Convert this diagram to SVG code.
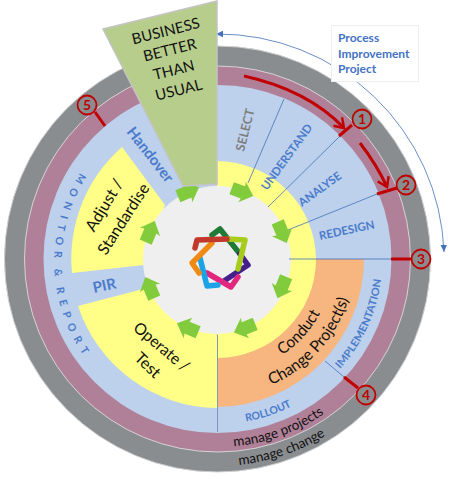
<svg xmlns="http://www.w3.org/2000/svg" width="450" height="479" viewBox="0 0 450 479">
<style>
.lb{font-family:Lato,"Liberation Sans",sans-serif;font-weight:700;fill:#4a7bcb}
.bk{font-family:Lato,"Liberation Sans",sans-serif;fill:#111}
.thin{fill:none;stroke:#4472b8;stroke-width:.8}
.red{fill:none;stroke:#c00000;stroke-width:3}
.num{fill:none;stroke:#c00000;stroke-width:1.8}
.numt{font-family:Lato,"Liberation Sans",sans-serif;font-weight:700;font-size:14px;fill:#c00000;text-anchor:middle}
.st{fill:none;stroke-width:5.500;stroke-linejoin:round;stroke-linecap:round}
</style>
<defs>
<marker id="ah" markerWidth="8" markerHeight="8" refX="7" refY="4" orient="auto-start-reverse" markerUnits="userSpaceOnUse"><path d="M0 .8L7 4L0 7.200z" fill="#4472b8"/></marker>
<marker id="rh" markerWidth="14" markerHeight="14" refX="11" refY="7" orient="auto" markerUnits="userSpaceOnUse"><path d="M2 1L11 7L2 13" fill="none" stroke="#c00000" stroke-width="2.500"/></marker>
<path id="ga" d="M-11 -6.500L1 -6.500L0 -11L12 0L0 11L1 6.500L-11 6.500z" fill="#82cb3c"/>
<path id="pMon" d="M84 167A165 165 0 0 0 84 356"/>
<path id="pProj" d="M233.900 446.300A188 188 0 0 0 350.400 391.900"/>
<path id="pChg" d="M239.100 464.900A207 207 0 0 0 363.900 405.400"/>
<path id="pRoll" d="M246 421.500A165 165 0 0 0 320 388"/>
<path id="pImpl" d="M340 369A165 165 0 0 0 382.500 259"/>
<path id="pChangeP" d="M259.800 389.300A137 137 0 0 0 351.500 287.500"/>
<path id="pConduct" d="M253.300 369.300A116 116 0 0 0 331 283"/>
</defs>
<g id="ring-change"><circle cx="217.500" cy="259" r="213" fill="#8a8d90" stroke="#cfcfcf" stroke-width="1"/></g>
<g id="ring-projects"><circle cx="217.500" cy="259" r="193" fill="#b08098" stroke="#d4d4d4" stroke-width="1"/></g>
<g id="ring-blue"><circle cx="217.500" cy="259" r="174" fill="#bdd0ec"/></g>
<g id="yellow">
<path d="M122 147A148 148 0 0 0 72 273L144 265L165 205z" fill="#ffff88"/>
<path d="M78 306A148 148 0 0 0 217 408L217 335L143 289z" fill="#ffff88"/>
<path d="M217 161A99 99 0 0 1 316 259L217 259z" fill="#ffff88"/>
</g>
<g id="orange"><path d="M217.500 259H364A148 148 0 0 1 217.500 407z" fill="#f7b57f"/><path d="M217.500 259H316A99 99 0 0 1 217.500 358z" fill="#ffff88"/></g>
<g id="hub"><circle cx="217" cy="260" r="74" fill="#efefef"/></g>
<g id="connectors">
<line class="thin" x1="284" y1="99" x2="248" y2="183"/>
<line class="thin" x1="340" y1="136" x2="268" y2="207"/>
<line class="thin" x1="377" y1="194" x2="288" y2="230"/>
<line class="thin" x1="289" y1="259" x2="391" y2="259"/>
<line class="thin" x1="325" y1="361" x2="344" y2="377"/>
<line x1="217.500" y1="335" x2="217.500" y2="432" stroke="#7f96b8" stroke-width="1"/>
<path class="thin" d="M216 34A226.500 226.500 0 0 1 444 252" marker-start="url(#ah)" marker-end="url(#ah)"/>
<path class="red" d="M244 76C285 85 320 103 344 128" marker-end="url(#rh)"/>
<path class="red" d="M360 143C370 156 380 172 387 187" marker-end="url(#rh)"/>
<line class="red" x1="339" y1="136" x2="352" y2="125"/>
<line class="red" x1="377" y1="194" x2="397" y2="188"/>
<line class="red" x1="391" y1="259" x2="412" y2="259"/>
<line class="red" x1="344" y1="377" x2="358" y2="388"/>
<line class="red" x1="95" y1="112" x2="105" y2="126"/>
</g>
<g id="arrows">
<use href="#ga" transform="translate(188 192) rotate(-23)"/>
<use href="#ga" transform="translate(242 192) rotate(20)"/>
<use href="#ga" transform="translate(282 232) rotate(67)"/>
<use href="#ga" transform="translate(282 287) rotate(112)"/>
<use href="#ga" transform="translate(245 328) rotate(158)"/>
<use href="#ga" transform="translate(188 328) rotate(203)"/>
<use href="#ga" transform="translate(150 288) rotate(247)"/>
<use href="#ga" transform="translate(150 232) rotate(293)"/>
</g>
<g id="logo">
<polyline class="st" stroke="#1e7a35" points="212,235 220,229 240,254"/>
<polyline class="st" stroke="#45208c" points="240,254 248,265 224,281"/>
<polyline class="st" stroke="#e0267e" points="207,273 231,287 238,277"/>
<polyline class="st" stroke="#1ba3e6" points="200,258 207,286 218,285"/>
<polyline class="st" stroke="#f08a12" points="212,243 192,263 199,273"/>
<polyline class="st" stroke="#a8cc1c" points="228,239 245,240 238,269"/>
<polyline class="st" stroke="#c0392b" points="227,239 197,240 195,248"/>
</g>
<g id="business">
<path d="M103 29L217 1V184L183 186z" fill="#b7cd8c" stroke="#c4c4c4" stroke-width="1.500"/>
<g class="bk" font-size="15" text-anchor="middle">
<text transform="translate(167 36) rotate(-14)">BUSINESS</text>
<text transform="translate(171 55) rotate(-14)">BETTER</text>
<text transform="translate(175 75) rotate(-14)">THAN</text>
<text transform="translate(180 95) rotate(-14)">USUAL</text>
</g>
</g>
<g id="project-box">
<rect x="331.500" y="25.500" width="87" height="56" fill="#fff" stroke="#eeeeee"/>
<g class="lb" font-size="12" style="fill:#4472c4"><text x="338" y="42">Process</text><text x="338" y="57.500">Improvement</text><text x="338" y="73">Project</text></g>
</g>
<g id="labels">
<text transform="translate(244 152) rotate(-76)" class="lb" font-size="12.500" style="fill:#7f7f7f">SELECT</text>
<text transform="translate(267 191) rotate(-54)" class="lb" font-size="11.500">UNDERSTAND</text>
<text transform="translate(302 207) rotate(-36)" class="lb" font-size="11.500">ANALYSE</text>
<text transform="translate(320 240) rotate(-12)" class="lb" font-size="11.500">REDESIGN</text>
<text class="lb" font-size="10.500"><textPath href="#pImpl" textLength="100" lengthAdjust="spacingAndGlyphs">IMPLEMENTATION</textPath></text>
<text class="lb" font-size="10.500"><textPath href="#pRoll">ROLLOUT</textPath></text>
<text class="lb" font-size="10.500" letter-spacing="2" style="white-space:pre"><textPath href="#pMon" startOffset="7">M O N I T O R  &amp;  R E P O R T</textPath></text>
<text transform="translate(126 132) rotate(52)" class="lb" font-size="15">Handover</text>
<text transform="translate(94 293) rotate(-12)" class="lb" font-size="15">PIR</text>
<text class="bk" font-size="13.500"><textPath href="#pProj">manage projects</textPath></text>
<text class="bk" font-size="13.500"><textPath href="#pChg">manage change</textPath></text>
<g class="bk" font-size="16">
<g text-anchor="middle">
<text transform="translate(109 208) rotate(-59)" textLength="58" lengthAdjust="spacingAndGlyphs">Adjust /</text>
<text transform="translate(128 222) rotate(-57)" textLength="81" lengthAdjust="spacingAndGlyphs">Standardise</text>
<text transform="translate(158 351) rotate(40)" textLength="67" lengthAdjust="spacingAndGlyphs">Operate /</text>
<text transform="translate(144 369) rotate(44)" textLength="29" lengthAdjust="spacingAndGlyphs">Test</text>
</g>
<text text-anchor="middle"><textPath href="#pChangeP" startOffset="50%" textLength="119" lengthAdjust="spacingAndGlyphs">Change Project(s)</textPath></text>
<text text-anchor="middle"><textPath href="#pConduct" startOffset="50%" textLength="57" lengthAdjust="spacingAndGlyphs">Conduct</textPath></text>
</g>
</g>
<g id="node-1"><circle class="num" cx="362" cy="119" r="9.500"/><text class="numt" x="362" y="124">1</text></g>
<g id="node-2"><circle class="num" cx="406" cy="185" r="9.500"/><text class="numt" x="406" y="190">2</text></g>
<g id="node-3"><circle class="num" cx="421" cy="259" r="9.500"/><text class="numt" x="421" y="264">3</text></g>
<g id="node-4"><circle class="num" cx="366" cy="395" r="9.500"/><text class="numt" x="366" y="400">4</text></g>
<g id="node-5"><circle class="num" cx="87" cy="105" r="9.500"/><text class="numt" x="87" y="110">5</text></g>
</svg>
